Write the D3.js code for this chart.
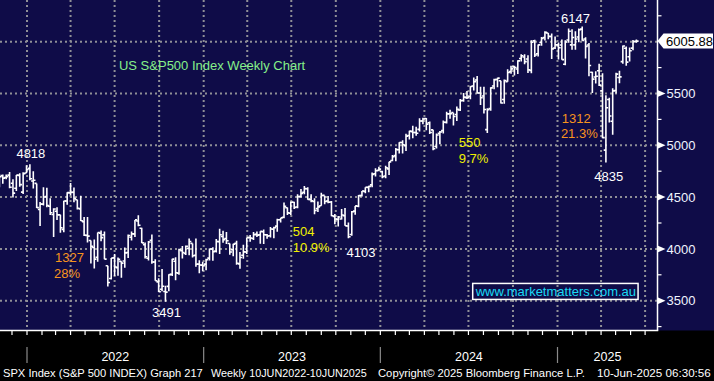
<!DOCTYPE html>
<html><head><meta charset="utf-8">
<script src="https://cdn.jsdelivr.net/npm/d3@7"></script>
<style>html,body{margin:0;padding:0;background:#000;overflow:hidden}svg{display:block}</style>
</head><body><svg id="c" width="714" height="381"></svg>
<script>
// ---- data: weekly OHLC of the S&P 500 (week ending Fridays) ----
const firstWeek = "2021-11-05";
const bars2021 = [
[4610,4718,4595,4697],[4707,4718,4630,4683],[4689,4718,4672,4698],[4712,4743,4585,4595],
[4633,4672,4495,4538],[4586,4713,4558,4712],[4710,4731,4600,4620],[4548,4740,4531,4725],
[4733,4808,4733,4766]];
const bars2022 = [
[4778,4818,4662,4677],[4656,4749,4582,4663],[4632,4632,4395,4398],[4381,4453,4222,4432],
[4432,4595,4419,4501],[4505,4590,4401,4419],[4412,4490,4327,4349],[4332,4393,4115,4385],
[4363,4402,4279,4329],[4328,4329,4157,4204],[4188,4465,4161,4463],[4462,4546,4425,4543],
[4541,4637,4517,4546],[4547,4593,4450,4488],[4474,4474,4381,4392],[4386,4512,4270,4272],[4262,4308,4124,4132],
[4131,4308,4062,4123],[4081,4081,3859,4024],[4013,4090,3811,3901],[3920,4158,3876,4158],
[4151,4178,4074,4109],[4135,4169,3900,3901],[3838,3838,3637,3675],[3715,3913,3705,3912],
[3913,3950,3739,3825],[3819,3918,3742,3899],[3880,3880,3721,3863],[3883,4013,3818,3962],[3965,4140,3913,4130],
[4113,4167,4080,4145],[4145,4280,4115,4280],[4270,4325,4218,4228],[4200,4203,4057,4058],
[4041,4062,3907,3924],[3910,4076,3887,4067],[4083,4140,3856,3873],[3873,3899,3693,3693],[3682,3716,3584,3586],
[3610,3806,3591,3640],[3589,3645,3491,3583],[3638,3755,3591,3752],[3754,3905,3738,3901],
[3881,3919,3698,3770],[3765,4001,3751,3993],[3982,4028,3907,3965],[3956,4034,3940,4026],
[4005,4100,3938,4072],[4053,4053,3918,3934],[3939,4101,3828,3852],[3853,3890,3764,3845],[3843,3876,3784,3840]];
const bars2023 = [
[3853,3906,3794,3895],[3911,4004,3888,3999],[3999,4015,3885,3973],[3979,4095,3965,4071],
[4070,4195,3950,4136],[4120,4176,4060,4090],[4100,4163,4048,4079],[4052,4052,3944,3970],
[3992,4049,3928,4046],[4055,4078,3847,3862],[3855,3971,3808,3917],[3938,4039,3905,3971],[3970,4110,3951,4109],
[4110,4133,4069,4105],[4100,4163,4086,4138],[4140,4169,4114,4133],[4135,4170,4049,4169],
[4166,4187,4048,4136],[4136,4143,4099,4124],[4127,4212,4110,4192],[4190,4213,4103,4205],
[4220,4290,4166,4282],[4282,4299,4256,4299],[4305,4448,4296,4410],[4397,4400,4328,4348],[4344,4458,4328,4450],
[4450,4456,4385,4399],[4404,4527,4393,4505],[4505,4578,4497,4536],[4547,4607,4527,4582],
[4580,4594,4474,4478],[4478,4528,4450,4464],[4458,4490,4335,4370],[4389,4458,4357,4406],
[4416,4541,4416,4516],[4517,4514,4430,4457],[4463,4511,4441,4450],[4453,4462,4316,4320],[4314,4338,4238,4288],
[4285,4317,4216,4308],[4289,4385,4283,4327],[4320,4394,4223,4224],[4221,4255,4103,4117],
[4139,4366,4127,4358],[4365,4415,4329,4415],[4411,4520,4401,4514],[4514,4560,4506,4559],
[4555,4595,4537,4595],[4594,4609,4546,4604],[4618,4738,4594,4719],[4725,4778,4699,4754],[4758,4793,4751,4770]];
const bars2024 = [
[4745,4755,4682,4697],[4703,4802,4682,4784],[4772,4842,4714,4840],[4853,4907,4845,4891],
[4900,4975,4845,4959],[4957,5030,4920,5027],[5027,5048,4920,5006],[4995,5111,4946,5089],
[5094,5140,5057,5137],[5132,5189,5069,5124],[5124,5179,5091,5117],[5154,5261,5132,5234],[5235,5265,5203,5254],
[5258,5263,5146,5204],[5218,5230,5108,5123],[5149,5150,4953,4967],[4988,5114,4968,5100],
[5115,5139,5011,5128],[5142,5239,5114,5223],[5221,5325,5211,5303],[5305,5342,5257,5305],[5316,5315,5191,5278],
[5297,5375,5234,5347],[5341,5447,5331,5431],[5432,5506,5420,5465],[5460,5523,5448,5460],
[5471,5570,5445,5567],[5572,5655,5529,5615],[5631,5670,5497,5505],[5505,5566,5390,5459],
[5476,5566,5306,5346],[5151,5358,5119,5344],[5354,5561,5333,5554],[5573,5643,5540,5634],[5635,5651,5560,5648],
[5623,5623,5403,5408],[5442,5636,5402,5626],[5615,5733,5613,5703],[5711,5767,5690,5738],
[5757,5767,5674,5751],[5737,5822,5689,5815],[5838,5878,5809,5864],[5853,5878,5782,5808],
[5833,5870,5697,5729],[5723,6013,5696,5995],[6008,6018,5853,5871],[5884,5972,5858,5969],[5993,6045,5960,6032],
[6040,6100,6012,6090],[6084,6085,6024,6051],[6050,6078,5832,5931],[5939,6050,5930,5970]];
const bars2025 = [
[5969,5993,5829,5942],[5968,6022,5826,5827],[5782,6013,5773,5997],[6017,6128,5991,6101],[5969,6120,5923,6041],
[5969,6101,5923,6026],[6046,6128,5995,6115],[6121,6147,6008,6013],[6026,6044,5837,5955],
[5968,5987,5666,5770],[5705,5711,5505,5639],[5659,5715,5597,5667],[5719,5787,5572,5581],
[5527,5695,5069,5074],[4953,5482,4835,5363],[5442,5460,5220,5283],[5232,5551,5101,5525],
[5529,5700,5499,5687],[5655,5720,5598,5660],[5808,5964,5786,5958],[5937,5953,5767,5803],[5855,5944,5810,5912],
[5938,6016,5918,6000],[6005,6021,5990,6005.88]];

const majorPrices = [3500,4000,4500,5000,5500];
const minorPrices = [3250,3750,4250,4750,5250,5750,6250];
const gridPrices = [3500,4000,4500,5000,5500,6000];
const yearLabels = ["2022","2023","2024","2025"];
const lastPrice = 6005.88;
const lastPriceLabel = "6005.88";
const titleText = "US S&P500 Index Weekly Chart";
const websiteText = "www.marketmatters.com.au";
const footerTexts = ["SPX Index (S&P 500 INDEX) Graph 217","Weekly 10JUN2022-10JUN2025",
  "Copyright\u00A9 2025 Bloomberg Finance L.P.","10-Jun-2025 06:30:56"];
const annotations = [
  {text:"4818", date:"2022-01-09", price:4877, color:"#ffffff", anchor:"middle"},
  {text:"1327", date:"2022-02-28", price:3873, color:"#f7941d", anchor:"start"},
  {text:"28%",  date:"2022-02-26", price:3719, color:"#f7941d", anchor:"start"},
  {text:"3491", date:"2022-10-16", price:3343, color:"#ffffff", anchor:"middle"},
  {text:"504",  date:"2023-07-04", price:4125, color:"#f0f000", anchor:"start"},
  {text:"10.9%",date:"2023-07-04", price:3970, color:"#f0f000", anchor:"start"},
  {text:"4103", date:"2023-11-22", price:3922, color:"#ffffff", anchor:"middle"},
  {text:"550",  date:"2024-06-11", price:4984, color:"#f0f000", anchor:"start"},
  {text:"9.7%", date:"2024-06-11", price:4829, color:"#f0f000", anchor:"start"},
  {text:"1312", date:"2025-01-10", price:5215, color:"#f7941d", anchor:"start"},
  {text:"21.3%",date:"2025-01-08", price:5071, color:"#f7941d", anchor:"start"},
  {text:"4835", date:"2025-04-17", price:4656, color:"#ffffff", anchor:"middle"},
  {text:"6147", date:"2025-02-07", price:6181, color:"#ffffff", anchor:"middle"}
];
const titleAnchor = {date:"2022-07-10", price:5727};
const websiteAnchor = {date:"2024-07-16", price:3546};

// ---- layout ----
const W = 714, H = 381, plotRight = 657.5, plotBottom = 330.5;
const parse = d3.utcParse("%Y-%m-%d");
const x = d3.scaleUtc().domain([parse("2022-01-01"), parse("2025-01-01")]).range([27, 557.5]);
const y = d3.scaleLinear().domain([3500, 6000]).range([300.7, 41.7]);
const font = "'Liberation Sans',Arial,sans-serif";

const svg = d3.select("#c");
svg.append("rect").attr("width",W).attr("height",H).attr("fill","#000");
svg.append("rect").attr("width",W).attr("height",plotBottom).attr("fill","#0f0c48");

const start = parse(firstWeek);
const allBars = [].concat(bars2021,bars2022,bars2023,bars2024,bars2025);
const data = allBars.map((b,i)=>({date:d3.utcDay.offset(start,7*i),o:b[0],h:b[1],l:b[2],c:b[3]}));

const d0 = x.invert(0), d1 = x.invert(plotRight);
const months = d3.utcMonth.range(d3.utcMonth.ceil(d0), d1);
const quarters = months.filter(m=>m.getUTCMonth()%3===0);
const years = d3.utcYear.range(d3.utcYear.ceil(d0), d1);

// grid
const grid = svg.append("g").attr("stroke","#8f8f96").attr("stroke-width",2).attr("stroke-dasharray","2,3");
grid.selectAll("line.h").data(gridPrices).join("line")
  .attr("x1",0).attr("x2",plotRight).attr("y1",d=>y(d)).attr("y2",d=>y(d));
grid.selectAll("line.v").data(quarters).join("line")
  .attr("x1",d=>x(d)).attr("x2",d=>x(d)).attr("y1",0).attr("y2",plotBottom);

// bars
svg.append("g").selectAll("path").data(data).join("path")
  .attr("fill","none").attr("stroke","#fff").attr("stroke-width",1.6)
  .attr("d",d=>{const cx=x(d.date);return `M${cx},${y(d.h)}V${y(d.l)}M${cx-2.2},${y(d.o)}H${cx}M${cx},${y(d.c)}H${cx+2.2}`;});

// right axis
const ax = svg.append("g");
ax.append("line").attr("x1",plotRight).attr("x2",plotRight).attr("y1",0).attr("y2",plotBottom)
  .attr("stroke","#fff").attr("stroke-width",1.5);
ax.selectAll("line.mn").data(minorPrices).join("line")
  .attr("x1",plotRight).attr("x2",plotRight+4).attr("y1",d=>y(d)).attr("y2",d=>y(d))
  .attr("stroke","#fff").attr("stroke-width",1.2);
ax.selectAll("path.mj").data(majorPrices).join("path")
  .attr("fill","#fff")
  .attr("d",d=>`M${plotRight},${y(d)-3.5}L${plotRight+8},${y(d)}L${plotRight},${y(d)+3.5}Z`);
ax.selectAll("text.mj").data(majorPrices).join("text")
  .attr("x",plotRight+9).attr("y",d=>y(d)+4.7)
  .attr("fill","#f0f4ff").attr("font-family",font).attr("font-size",13)
  .text(d=>d);
// last price callout
const ly = y(lastPrice);
ax.append("path").attr("fill","#fff")
  .attr("d",`M${plotRight},${ly}L${plotRight+6},${ly-7.5}H713V${ly+7.5}H${plotRight+6}Z`);
ax.append("text").attr("x",plotRight+8.5).attr("y",ly+4.7).attr("fill","#000")
  .attr("font-family",font).attr("font-size",13).text(lastPriceLabel);

// bottom axis
const bx = svg.append("g");
bx.append("line").attr("x1",0).attr("x2",plotRight+0.75).attr("y1",plotBottom).attr("y2",plotBottom)
  .attr("stroke","#fff").attr("stroke-width",1.5);
bx.selectAll("line.t").data(months).join("line")
  .attr("x1",d=>x(d)).attr("x2",d=>x(d)).attr("y1",plotBottom).attr("y2",plotBottom+4.5)
  .attr("stroke","#fff").attr("stroke-width",1.2);
bx.selectAll("line.yr").data(years).join("line")
  .attr("x1",d=>x(d)).attr("x2",d=>x(d)).attr("y1",347).attr("y2",363)
  .attr("stroke","#8a8a8a").attr("stroke-width",1.2);
bx.selectAll("text.yr").data(years).join("text")
  .attr("x",(d,i)=>{const a=x(d);const b=i<years.length-1?x(years[i+1]):plotRight;return (a+b)/2;})
  .attr("y",361).attr("text-anchor","middle").attr("fill","#fff")
  .attr("font-family",font).attr("font-size",12.5)
  .text((d,i)=>yearLabels[i]);

// footer: each segment's font size fitted to its width in the reference
const footX = [3,211,378,597], footL = [200,156,207,114];
svg.append("g").selectAll("text").data(footerTexts).join("text")
  .attr("x",(d,i)=>footX[i]).attr("y",377).attr("fill","#fff")
  .attr("font-family",font).attr("font-size",12)
  .text(d=>d)
  .each(function(d,i){
    const w = this.getComputedTextLength();
    d3.select(this).attr("font-size", Math.min(13, 12*footL[i]/w));
  });

// annotations
svg.append("g").selectAll("text").data(annotations).join("text")
  .attr("x",d=>x(parse(d.date))).attr("y",d=>y(d.price))
  .attr("text-anchor",d=>d.anchor).attr("fill",d=>d.color)
  .attr("font-family",font).attr("font-size",13).text(d=>d.text);

svg.append("text").attr("x",x(parse(titleAnchor.date))).attr("y",y(titleAnchor.price))
  .attr("fill","#86f08a").attr("font-family",font).attr("font-size",13).text(titleText);

const wg = svg.append("g");
const wr = wg.append("rect");
const wt = wg.append("text").attr("x",x(parse(websiteAnchor.date))).attr("y",y(websiteAnchor.price))
  .attr("fill","#19d9f5").attr("font-family",font).attr("font-size",13).text(websiteText);
const bb = wt.node().getBBox();
wr.attr("x",bb.x-2).attr("y",bb.y-0.5).attr("width",bb.width+4).attr("height",bb.height+1)
  .attr("fill","none").attr("stroke","#fff").attr("stroke-width",1.5);
</script>
</body></html>
